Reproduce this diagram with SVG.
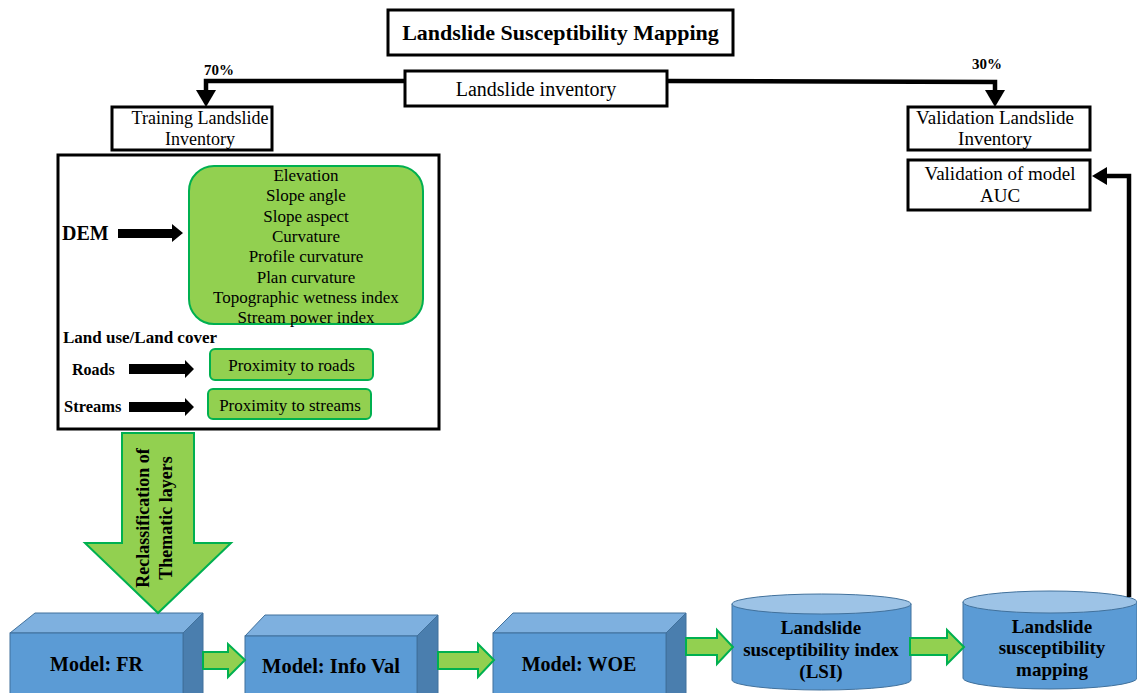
<svg xmlns="http://www.w3.org/2000/svg" width="1137" height="693" viewBox="0 0 1137 693">
<style>
.t{font-family:"Liberation Serif","Times New Roman",Tinos,"DejaVu Serif Condensed","DejaVu Serif",serif;fill:#000}
.b{font-weight:bold}
.box{fill:#fff;stroke:#000;stroke-width:3}
.gbox{fill:#92d050;stroke:#00b050;stroke-width:2}
.front{fill:#5b9bd5;stroke:#41719c;stroke-width:1}
.top{fill:#7eb0df;stroke:#41719c;stroke-width:1}
.side{fill:#4a7eae;stroke:#41719c;stroke-width:1}
.ctop{fill:#9dc3e6;stroke:#41719c;stroke-width:1}
.garrow{fill:#92d050;stroke:#00b050;stroke-width:2}
.blk{fill:#000}
.line{fill:none;stroke:#000;stroke-width:4.5}
</style>
<rect width="1137" height="693" fill="#fff"/>

<g id="title">
<rect class="box" x="388" y="10" width="345" height="45"/>
<text class="t b" x="560.5" y="40" font-size="22" text-anchor="middle">Landslide Susceptibility Mapping</text>
</g>

<g id="inventory">
<rect class="box" x="405" y="71" width="262" height="35" stroke-width="3.5"/>
<text class="t" x="536" y="96" font-size="20" text-anchor="middle">Landslide inventory</text>
</g>

<g id="training">
<rect class="box" x="112" y="107" width="160" height="43"/>
<text class="t" x="200" y="124" font-size="18" text-anchor="middle">Training Landslide</text>
<text class="t" x="200" y="145" font-size="18" text-anchor="middle">Inventory</text>
</g>

<g id="validation-inventory">
<rect class="box" x="908" y="107" width="182" height="43"/>
<text class="t" x="995" y="124" font-size="19" text-anchor="middle">Validation Landslide</text>
<text class="t" x="995" y="145" font-size="19" text-anchor="middle">Inventory</text>
</g>

<g id="validation-auc">
<rect class="box" x="908" y="160" width="182" height="50"/>
<text class="t" x="1000" y="180" font-size="19" text-anchor="middle">Validation of model</text>
<text class="t" x="1000" y="202" font-size="19" text-anchor="middle">AUC</text>
</g>

<g id="factors">
<rect class="box" x="58" y="155" width="381" height="274"/>
<text class="t b" x="62" y="240" font-size="20">DEM</text>
<text class="t b" x="63" y="343" font-size="17">Land use/Land cover</text>
<text class="t b" x="72" y="375" font-size="16">Roads</text>
<text class="t b" x="64" y="412" font-size="16.5">Streams</text>
</g>

<g id="dem-factors">
<rect class="gbox" x="189" y="166" width="234" height="158" rx="25"/>
<g class="t" font-size="17" text-anchor="middle">
<text x="306" y="181">Elevation</text>
<text x="306" y="201">Slope angle</text>
<text x="306" y="221.5">Slope aspect</text>
<text x="306" y="242">Curvature</text>
<text x="306" y="262">Profile curvature</text>
<text x="306" y="282.5">Plan curvature</text>
<text x="306" y="302.5">Topographic wetness index</text>
<text x="306" y="323">Stream power index</text>
</g>
</g>

<g id="prox-roads">
<rect class="gbox" x="210" y="349" width="163" height="31" rx="5"/>
<text class="t" x="291.5" y="371" font-size="17" text-anchor="middle">Proximity to roads</text>
</g>
<g id="prox-streams">
<rect class="gbox" x="208" y="389" width="163" height="30" rx="5"/>
<text class="t" x="290" y="411" font-size="17" text-anchor="middle">Proximity to streams</text>
</g>

<g id="model-fr">
<polygon class="top" points="10,633 35,613 203,613 183,633"/>
<polygon class="side" points="183,633 203,613 203,700 183,700"/>
<rect class="front" x="10" y="633" width="173" height="70"/>
<text class="t b" x="96.5" y="671" font-size="20" text-anchor="middle">Model: FR</text>
</g>

<g id="model-infoval">
<polygon class="top" points="245,636 265,615 438,615 417,636"/>
<polygon class="side" points="417,636 438,615 438,700 417,700"/>
<rect class="front" x="245" y="636" width="172" height="67"/>
<text class="t b" x="331" y="673" font-size="20.5" text-anchor="middle">Model: Info Val</text>
</g>

<g id="model-woe">
<polygon class="top" points="493,633 513,613 686,613 666,633"/>
<polygon class="side" points="666,633 686,613 686,700 666,700"/>
<rect class="front" x="493" y="633" width="173" height="70"/>
<text class="t b" x="579" y="671" font-size="20" text-anchor="middle">Model: WOE</text>
</g>

<g id="lsi">
<path class="front" d="M732,604 L732,680 A89.5,10 0 0 0 911,680 L911,604 Z"/>
<ellipse class="ctop" cx="821.5" cy="604" rx="89.5" ry="10"/>
<g class="t b" font-size="19" text-anchor="middle">
<text x="821" y="634">Landslide</text>
<text x="821" y="656">susceptibility index</text>
<text x="821" y="678">(LSI)</text>
</g>
</g>

<g id="lsm">
<path class="front" d="M963,602 L963,678 A87,11 0 0 0 1137,678 L1137,602 Z"/>
<ellipse class="ctop" cx="1050" cy="602" rx="87" ry="11"/>
<g class="t b" font-size="19" text-anchor="middle">
<text x="1052" y="633">Landslide</text>
<text x="1052" y="654">susceptibility</text>
<text x="1052" y="676">mapping</text>
</g>
</g>

<g id="connectors">
<polyline class="line" points="405,81 206,81 206,92"/>
<polygon class="blk" points="196,90 216,90 206,107"/>
<polyline class="line" points="667,81 995,82 995,92"/>
<polygon class="blk" points="985,90 1005,90 995,107"/>
<polyline class="line" points="1129,597 1129,176 1105,176"/>
<polygon class="blk" points="1107,167 1107,185 1092,176"/>
<polygon class="blk" points="118,229 172,229 172,224 183,233 172,242 172,238 118,238"/>
<polygon class="blk" points="129,364 185,364 185,360 194,369 185,378 185,374 129,374"/>
<polygon class="blk" points="129,402 185,402 185,398 194,407 185,416 185,412 129,412"/>
<polygon class="garrow" points="122,433 194,433 194,543 231,543 158,613 85,543 122,543"/>
<polygon class="garrow" points="203,652 228,652 228,644 245,660 228,677 228,669 203,669"/>
<polygon class="garrow" points="438,652 478,652 478,644 494,660 478,677 478,669 438,669"/>
<polygon class="garrow" points="686,638 717,638 717,630 733,647 717,664 717,655 686,655"/>
<polygon class="garrow" points="910,638 947,638 947,630 964,647 947,664 947,655 910,655"/>
</g>
<text class="t b" x="219" y="75" font-size="15" text-anchor="middle">70%</text>
<text class="t b" x="987" y="69" font-size="15" text-anchor="middle">30%</text>
<text class="t b" font-size="18" text-anchor="middle" transform="translate(149,518) rotate(-90)">Reclassification of</text>
<text class="t b" font-size="18" text-anchor="middle" transform="translate(172,518) rotate(-90)">Thematic layers</text>
</svg>
